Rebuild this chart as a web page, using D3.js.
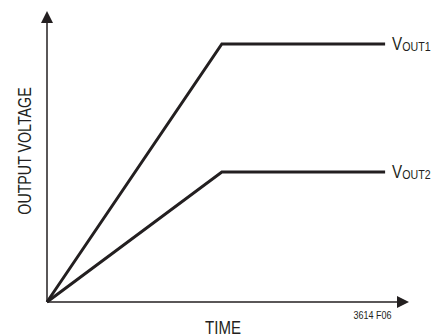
<!DOCTYPE html>
<meta charset="utf-8">
<style>
	body { margin: 0; background: #fff; }
	svg text { font-family: "Liberation Sans", Arial, sans-serif; fill: #231f20; }
</style>
<svg width="437" height="336" id="chart"></svg>
<script src="https://cdn.jsdelivr.net/npm/d3@7"></script>
<script>
	// time points (arbitrary units) and the two output ramps
	var time = [0, 4.83, 9.34];
	var vout1 = [0, 8.87, 8.87];
	var vout2 = [0, 4.47, 4.47];
	var seriesNames = ["OUT1", "OUT2"];

	var svg = d3.select("#chart"),
		origin = {x: 47, y: 302};

	var x = d3.scaleLinear().domain([0, 10]).range([origin.x, 409]),
		y = d3.scaleLinear().domain([0, 10]).range([origin.y, 11]);

	var ink = "#231f20";

	// condensed look: squeeze text horizontally, no narrow font installed
	function label(px, py, size, sx) {
		return svg.append("g")
			.attr("transform", "translate(" + px + "," + py + ") scale(" + sx + ",1)")
			.append("text")
			.attr("font-size", size);
	}

	// axes with arrowheads
	svg.append("line")
		.attr("x1", x(0)).attr("y1", y(0))
		.attr("x2", x(0)).attr("y2", y(10) + 8)
		.attr("stroke", ink).attr("stroke-width", 1.5);
	svg.append("path")
		.attr("d", "M" + x(0) + "," + y(10) + "l-6,12h12z")
		.attr("fill", ink);

	svg.append("line")
		.attr("x1", x(0)).attr("y1", y(0))
		.attr("x2", x(10) - 8).attr("y2", y(0))
		.attr("stroke", ink).attr("stroke-width", 1.5);
	svg.append("path")
		.attr("d", "M" + x(10) + "," + y(0) + "l-12,-6v12z")
		.attr("fill", ink);

	var line = d3.line()
		.x(function(d) { return x(d[0]); })
		.y(function(d) { return y(d[1]); });

	[vout1, vout2].forEach(function(vals, i) {
		var pts = time.map(function(t, j) { return [t, vals[j]]; });
		svg.append("path")
			.datum(pts)
			.attr("d", line)
			.attr("fill", "none")
			.attr("stroke", ink)
			.attr("stroke-width", 3)
			.attr("stroke-linejoin", "miter");

		var last = pts[pts.length - 1];
		var lbl = label(x(last[0]) + 7, y(last[1]) + 6, 18.5, 0.82);
		lbl.append("tspan").text("V");
		lbl.append("tspan")
			.attr("font-size", 13)
			.attr("dy", 1.5)
			.text(seriesNames[i]);
	});

	svg.append("g")
		.attr("transform", "translate(31,151) rotate(-90) scale(0.75,1)")
		.append("text")
		.attr("text-anchor", "middle")
		.attr("font-size", 19)
		.text("OUTPUT VOLTAGE");

	label(223, 333.5, 17.5, 0.86)
		.attr("text-anchor", "middle")
		.text("TIME");

	label(372.5, 319, 10, 0.9)
		.attr("text-anchor", "middle")
		.text("3614 F06");
</script>
